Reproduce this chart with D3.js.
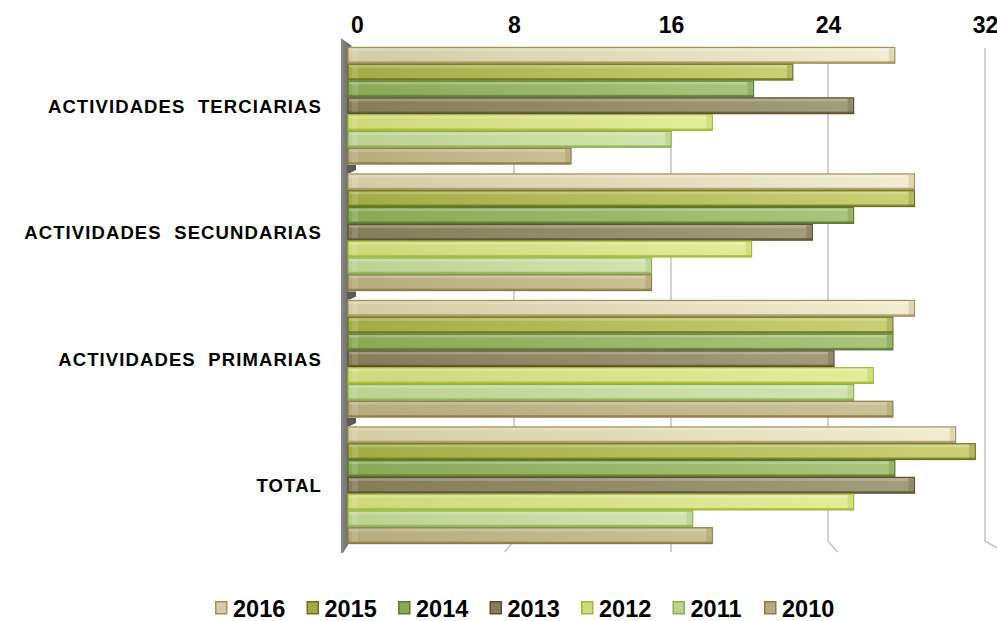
<!DOCTYPE html>
<html><head><meta charset="utf-8">
<script src="https://cdn.jsdelivr.net/npm/d3@7"></script>
<style>
body{margin:0;background:#fff}
svg{display:block;font-family:"Liberation Sans",Arial,sans-serif;font-weight:bold}
</style>
</head><body><svg id="c" width="997" height="621"></svg>
<script>
// ---- data ----
const categories = ["ACTIVIDADES  TERCIARIAS", "ACTIVIDADES  SECUNDARIAS", "ACTIVIDADES  PRIMARIAS", "TOTAL"];
const years = ["2016", "2015", "2014", "2013", "2012", "2011", "2010"];
const v2016 = [27.1, 28.1, 28.1, 30.2];
const v2015 = [21.9, 28.1, 27.0, 31.2];
const v2014 = [19.9, 25.0, 27.0, 27.1];
const v2013 = [25.0, 22.9, 24.0, 28.1];
const v2012 = [17.8, 19.8, 26.0, 25.0];
const v2011 = [15.7, 14.7, 25.0, 16.8];
const v2010 = [10.6, 14.7, 27.0, 17.8];
const tickValues = [0, 8, 16, 24, 32];

// ---- styles ----
const fillA  = ["#d3cca4", "#a2ac46", "#8aa956", "#857c58", "#cdd97a", "#bad292", "#b6ac7e"];
const fillB  = ["#f2edd2", "#c9d174", "#a9c57c", "#a39d7b", "#e2ed9a", "#d2e4b0", "#cac295"];
const stroke = ["#a0925a", "#6b7122", "#5b7a2c", "#585030", "#a5b733", "#8bb24a", "#8a7b47"];

const seriesValues = [v2016, v2015, v2014, v2013, v2012, v2011, v2010];
const series = years.map((y, i) => ({year: y, values: seriesValues[i], i}));

const svg = d3.select("#c");
const defs = svg.append("defs");
series.forEach(s => {
  const g = defs.append("linearGradient").attr("id", "g" + s.i)
    .attr("x1", 0).attr("y1", 0).attr("x2", 1).attr("y2", 0);
  g.append("stop").attr("offset", "0%").attr("stop-color", fillA[s.i]);
  g.append("stop").attr("offset", "100%").attr("stop-color", fillB[s.i]);
});
const wg = defs.append("linearGradient").attr("id", "wall").attr("x1",0).attr("x2",1);
wg.append("stop").attr("offset","0%").attr("stop-color","#8a8a8a");
wg.append("stop").attr("offset","100%").attr("stop-color","#5e5e5e");

const x = d3.scaleLinear().domain([0, 32]).range([357, 985]);
const y = d3.scaleBand().domain(categories).range([42.5, 548.5]).paddingInner(0.07).paddingOuter(0.035);
const yi = d3.scaleBand().domain(years).range([0, y.bandwidth()]);

const wallX = 341, wallW = 7, barStart = wallX + wallW, depth = 7;
const plotTop = 44, plotBot = 541;

// gridlines with floor bend
const grid = svg.append("g");
tickValues.slice(1).forEach(t => {
  const gx = x(t);
  const dx = (gx - 670) * 0.06;
  grid.append("path")
    .attr("d", `M${gx},${plotTop + 4}L${gx},${plotBot}L${gx + dx},${plotBot + 11}`)
    .attr("fill", "none").attr("stroke", "#c6c6c6").attr("stroke-width", 1.6);
});

// top axis labels
const axis = d3.axisTop(x).tickValues(tickValues).tickSize(0).tickPadding(0);
const ag = svg.append("g").attr("transform", "translate(0,33)").call(axis);
ag.select(".domain").remove();
ag.selectAll("text").attr("font-size", 23).attr("font-weight", "bold").attr("fill", "#000")
  .attr("font-family", '"Liberation Sans",Arial,sans-serif');

// left wall
svg.append("path")
  .attr("d", `M${wallX},${plotTop - 6}L${wallX + wallW + 4},${plotTop + 2}L${wallX + wallW},${plotTop + 4}L${wallX + wallW},${plotBot + 4}L${wallX + 2},${plotBot + 12}L${wallX},${plotBot + 12}Z`)
  .attr("fill", "url(#wall)");

// group separators on wall
categories.slice(1).forEach(c => {
  const sy = y(c) - y.step() * y.paddingInner() / 2;
  svg.append("path")
    .attr("d", `M${barStart - 1},${sy - 4}L${barStart + 8},${sy - 4}L${barStart + 8},${sy + 1}L${barStart + 2},${sy + 4}L${barStart - 1},${sy + 4}Z`)
    .attr("fill", "#5a5a5a");
});

// bars
const groups = svg.append("g").selectAll("g").data(categories).join("g")
  .attr("transform", c => `translate(0,${y(c)})`);

groups.each(function(c, ci) {
  const g = d3.select(this);
  series.forEach(s => {
    const v = s.values[ci];
    const by = yi(s.year), bh = yi.bandwidth();
    const xe = x(v) + depth;
    const bg = g.append("g");
    bg.append("rect").attr("x", barStart).attr("y", by + 0.5).attr("width", xe - barStart - 1).attr("height", bh - 1)
      .attr("fill", `url(#g${s.i})`).attr("stroke", stroke[s.i]).attr("stroke-width", 1.2);
    bg.append("rect").attr("x", barStart + 1).attr("y", by + 1.5).attr("width", xe - barStart - 8).attr("height", 2.5)
      .attr("fill", "#ffffff").attr("opacity", 0.22);
    bg.append("rect").attr("x", barStart).attr("y", by + bh - 2.5).attr("width", xe - barStart - 1).attr("height", 2)
      .attr("fill", stroke[s.i]).attr("opacity", 0.75);
    bg.append("rect").attr("x", barStart + 4).attr("y", by + 2).attr("width", 6).attr("height", bh - 4)
      .attr("fill", "#ffffff").attr("opacity", 0.12);
    bg.append("rect").attr("x", xe - 7).attr("y", by + 1.5).attr("width", 5).attr("height", bh - 3)
      .attr("fill", stroke[s.i]).attr("opacity", 0.25);
  });
});

// category labels
svg.append("g").selectAll("text").data(categories).join("text")
  .attr("x", 322).attr("y", c => y(c) + y.bandwidth() / 2 + 7)
  .attr("text-anchor", "end").attr("font-size", 18.5).attr("letter-spacing", 1.1)
  .style("white-space", "pre").attr("fill", "#000")
  .text(c => c);

// legend
const lg = svg.append("g").attr("transform", "translate(215,601)");
const li = lg.selectAll("g").data(series).join("g").attr("transform", s => `translate(${s.i * 91.5},0)`);
li.append("rect").attr("x", 0.75).attr("y", 0.75).attr("width", 11).attr("height", 12)
  .attr("fill", s => fillA[s.i]).attr("stroke", s => stroke[s.i]).attr("stroke-width", 1.5);
li.append("text").attr("x", 18).attr("y", 16).attr("font-size", 23.5).attr("fill", "#000").text(s => s.year);
</script>
</body></html>
